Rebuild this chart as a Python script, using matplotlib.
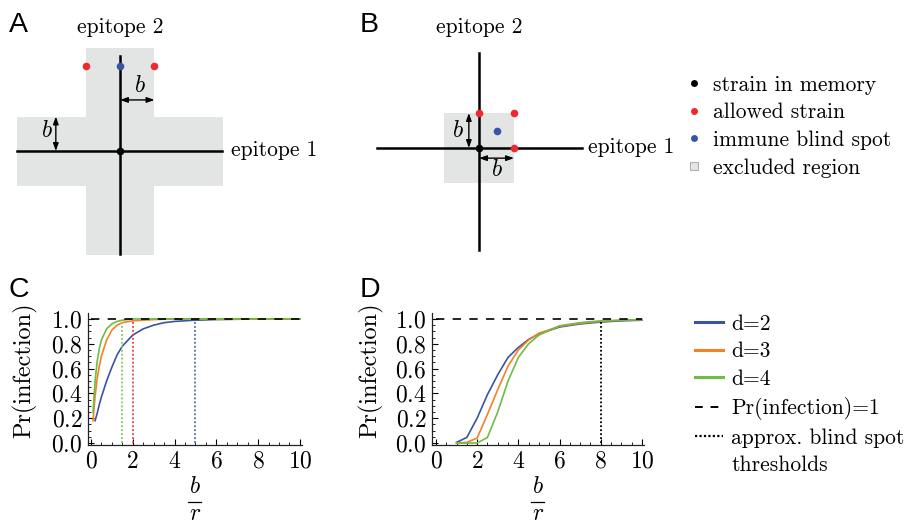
import matplotlib
matplotlib.use("Agg")
import matplotlib.pyplot as plt
from matplotlib.lines import Line2D
from matplotlib.patches import Polygon, Rectangle
from matplotlib.ticker import MultipleLocator

plt.rcParams['font.family'] = 'cmr10'
plt.rcParams['mathtext.fontset'] = 'cm'
plt.rcParams['axes.formatter.use_mathtext'] = True

# colours
grey = '#e3e4e4'
red = '#ee2a2e'
blue = '#3a54a4'
orange = '#f58025'
green = '#6cbe45'
thresh_colors = ['#7dcb5b', '#e53a40', '#5468b5']

# panel C: Pr(infection) vs b/r
c_x2 = [0.2, 0.3, 0.4, 0.5, 0.75, 1.0, 1.25, 1.5, 2.0, 2.5, 3.0, 3.5, 4.0, 5.0, 6.0, 8.0, 10.0]
c_y2 = [0.18, 0.24, 0.31, 0.37, 0.50, 0.61, 0.71, 0.78, 0.87, 0.92, 0.95, 0.97, 0.98, 0.99, 0.995, 1.0, 1.0]
c_x3 = [0.1, 0.2, 0.3, 0.4, 0.5, 0.75, 1.0, 1.25, 1.5, 2.0, 3.0, 4.0, 10.0]
c_y3 = [0.18, 0.38, 0.52, 0.62, 0.70, 0.83, 0.91, 0.95, 0.97, 0.985, 0.995, 1.0, 1.0]
c_x4 = [0.1, 0.2, 0.3, 0.4, 0.5, 0.75, 1.0, 1.25, 1.5, 2.0, 10.0]
c_y4 = [0.25, 0.50, 0.66, 0.76, 0.83, 0.92, 0.96, 0.98, 0.99, 1.0, 1.0]
c_thresh_x = [1.5, 2.0, 5.0]
c_thresh_top = [0.95, 0.98, 0.99]

# panel D
d_x = [1.0, 1.5, 2.0, 2.5, 3.0, 3.5, 4.0, 4.5, 5.0, 6.0, 7.0, 8.0, 9.0, 10.0]
d_y2 = [0.005, 0.045, 0.20, 0.39, 0.55, 0.69, 0.77, 0.835, 0.88, 0.935, 0.96, 0.975, 0.985, 0.99]
d_y3 = [0.0, 0.005, 0.04, 0.23, 0.43, 0.62, 0.75, 0.83, 0.885, 0.94, 0.965, 0.98, 0.99, 0.995]
d_y4 = [0.0, 0.0, 0.0, 0.045, 0.25, 0.50, 0.69, 0.80, 0.87, 0.945, 0.97, 0.985, 0.99, 0.995]
d_thresh_x = 8.0
d_thresh_top = 0.985

pr_max = 1.0
x_range = (0, 10)
x_ticks = [0, 2, 4, 6, 8, 10]
y_ticks = [0.0, 0.2, 0.4, 0.6, 0.8, 1.0]

# diagrams, in units of b
cross = [(-1, -3), (1, -3), (1, -1), (3, -1), (3, 1), (1, 1), (1, 3), (-1, 3),
         (-1, 1), (-3, 1), (-3, -1), (-1, -1)]
a_allowed = ([-1, 1], [2.46, 2.46])
a_blind = ([0], [2.46])
b_allowed = ([0, 1, 1], [1, 1, 0])
b_blind = ([0.5], [0.5])

W, H = 912, 527
fig = plt.figure(figsize=(W / 100, H / 100), dpi=100)
fs = 15.5


def px_axes(left, top, right, bottom):
    return fig.add_axes([left / W, 1 - bottom / H, (right - left) / W, (bottom - top) / H])


def px(x, y):
    return x / W, 1 - y / H


arrow = dict(arrowstyle='<|-|>,head_length=0.45,head_width=0.16', lw=1.0, color='k',
             shrinkA=0, shrinkB=0)

# ---- panel A
axA = px_axes(0, 40, 250, 265)
b = 34.5
axA.set_xlim(-120 / b, 130 / b)
axA.set_ylim(-114 / b, 111 / b)
axA.axis('off')
axA.add_patch(Polygon(cross, closed=True, fc=grey, ec='none'))
axA.plot([-3, 2.95], [0, 0], color='k', lw=1.8)
axA.plot([0, 0], [-2.98, 2.75], color='k', lw=1.8)
axA.plot(*a_allowed, 'o', color=red, ms=5.5, mec='none')
axA.plot(*a_blind, 'o', color=blue, ms=5.5, mec='none')
axA.plot(0, 0, 'o', color='k', ms=5.5, mec='none')
axA.annotate('', xy=(1, 1.48), xytext=(0, 1.48), arrowprops=arrow)
axA.annotate('', xy=(-1.86, 1), xytext=(-1.86, 0), arrowprops=arrow)
axA.text(0.57, 1.88, r'$b$', fontsize=17, ha='center', va='center')
axA.text(-2.12, 0.58, r'$b$', fontsize=17, ha='center', va='center')

# ---- panel B
axB = px_axes(360, 40, 610, 265)
b = 35
axB.set_xlim(-119 / b, 131 / b)
axB.set_ylim(-117 / b, 108 / b)
axB.axis('off')
axB.add_patch(Rectangle((-1, -1), 2, 2, fc=grey, ec='none'))
axB.plot([-2.91, 2.94], [0, 0], color='k', lw=1.8)
axB.plot([0, 0], [-2.91, 2.71], color='k', lw=1.8)
axB.plot(*b_allowed, 'o', color=red, ms=5.5, mec='none')
axB.plot(*b_blind, 'o', color=blue, ms=5.5, mec='none')
axB.plot(0, 0, 'o', color='k', ms=5.5, mec='none')
axB.annotate('', xy=(-0.29, 1), xytext=(-0.29, 0), arrowprops=arrow)
axB.annotate('', xy=(1, -0.29), xytext=(0, -0.29), arrowprops=arrow)
axB.text(-0.6, 0.5, r'$b$', fontsize=17, ha='center', va='center')
axB.text(0.5, -0.63, r'$b$', fontsize=17, ha='center', va='center')

# labels for diagrams
fig.text(*px(120, 33), 'epitope 2', fontsize=fs, ha='center', va='baseline')
fig.text(*px(479, 33), 'epitope 2', fontsize=fs, ha='center', va='baseline')
fig.text(*px(231, 156), 'epitope 1', fontsize=fs, ha='left', va='baseline')
fig.text(*px(588, 153), 'epitope 1', fontsize=fs, ha='left', va='baseline')
for lab, x, y in [('A', 9, 32), ('B', 360, 32), ('C', 9, 297), ('D', 360, 297)]:
    fig.text(*px(x, y), lab, fontsize=20.5, family='Liberation Sans', va='baseline')

# top legend
top_handles = [
    Line2D([], [], ls='none', marker='o', color='k', ms=5, mec='none'),
    Line2D([], [], ls='none', marker='o', color=red, ms=5, mec='none'),
    Line2D([], [], ls='none', marker='o', color=blue, ms=5, mec='none'),
    Line2D([], [], ls='none', marker='s', mfc=grey, mec='#a0a0a0', mew=0.6, ms=6),
]
top_labels = ['strain in memory', 'allowed strain', 'immune blind spot', 'excluded region']
fig.legend(top_handles, top_labels, loc='upper left', bbox_to_anchor=px(685, 75),
           frameon=False, fontsize=fs, handlelength=0.8, handletextpad=0.5,
           labelspacing=0.38, borderpad=0, borderaxespad=0)


# ---- panels C and D
def style(ax):
    for s in ('top', 'right'):
        ax.spines[s].set_visible(False)
    for s in ('left', 'bottom'):
        ax.spines[s].set_linewidth(0.9)
        ax.spines[s].set_color('#222222')
    ax.set_xticks(x_ticks, labels=[f'${v}$' for v in x_ticks])
    ax.set_yticks(y_ticks, labels=[f'${v:.1f}$' for v in y_ticks])
    ax.xaxis.set_minor_locator(MultipleLocator(0.5))
    ax.yaxis.set_minor_locator(MultipleLocator(0.05))
    ax.tick_params(which='major', direction='in', length=4, width=0.8, labelsize=17, pad=4)
    ax.tick_params(which='minor', direction='in', length=2, width=0.6)
    ax.set_ylim(-0.016, 1.048)


axC = px_axes(88, 313, 302, 445)
axC.set_xlim(-0.14, 10.1)
style(axC)
axC.plot(c_x2, c_y2, color=blue, lw=1.2)
axC.plot(c_x3, c_y3, color=orange, lw=1.2)
axC.plot(c_x4, c_y4, color=green, lw=1.2)
for x, top, col in zip(c_thresh_x, c_thresh_top, thresh_colors):
    axC.vlines(x, 0, top, color=col, lw=1.3, linestyles=(0, (1, 1.2)))
axC.hlines(pr_max, *x_range, color='k', lw=1.2, linestyles=(0, (5, 5)))

axD = px_axes(432, 313, 644, 445)
axD.set_xlim(-0.19, 10.1)
style(axD)
axD.plot(d_x, d_y2, color=blue, lw=1.2)
axD.plot(d_x, d_y3, color=orange, lw=1.2)
axD.plot(d_x, d_y4, color=green, lw=1.2)
axD.vlines(d_thresh_x, 0, d_thresh_top, color='k', lw=1.3, linestyles=(0, (1, 1.2)))
axD.hlines(pr_max, *x_range, color='k', lw=1.2, linestyles=(0, (5, 5)))

for ax, lx, wpx in ((axC, (37 - 88) / 214, 214), (axD, (383 - 432) / 212, 212)):
    ax.set_ylabel('Pr(infection)', fontsize=17.5)
    ax.yaxis.set_label_coords(lx, 0.568)
    # x label: b over r, drawn as a stacked fraction
    ax.text(0.5, -42 / 132, r'$b$', transform=ax.transAxes, fontsize=17,
            ha='center', va='center')
    ax.add_line(Line2D([0.5 - 6.5 / wpx, 0.5 + 6.5 / wpx], [-57 / 132] * 2,
                       transform=ax.transAxes, color='k', lw=0.9, clip_on=False))
    ax.text(0.5, -69 / 132, r'$r$', transform=ax.transAxes, fontsize=17,
            ha='center', va='center')

# bottom legend
bot_handles = [
    Line2D([], [], color=blue, lw=2.2),
    Line2D([], [], color=orange, lw=2.2),
    Line2D([], [], color=green, lw=2.2),
    Line2D([], [], color='k', lw=1.4, ls=(0, (4, 4))),
    Line2D([], [], color='k', lw=1.6, ls=(0, (1, 1))),
    Line2D([], [], color='none'),
]
bot_labels = ['d=2', 'd=3', 'd=4', 'Pr(infection)=1', 'approx. blind spot', 'thresholds']
fig.legend(bot_handles, bot_labels, loc='upper left', bbox_to_anchor=px(695, 314),
           frameon=False, fontsize=fs, handlelength=1.3, handletextpad=0.38,
           labelspacing=0.38, borderpad=0, borderaxespad=0)

fig.savefig('out.png', dpi=100)
